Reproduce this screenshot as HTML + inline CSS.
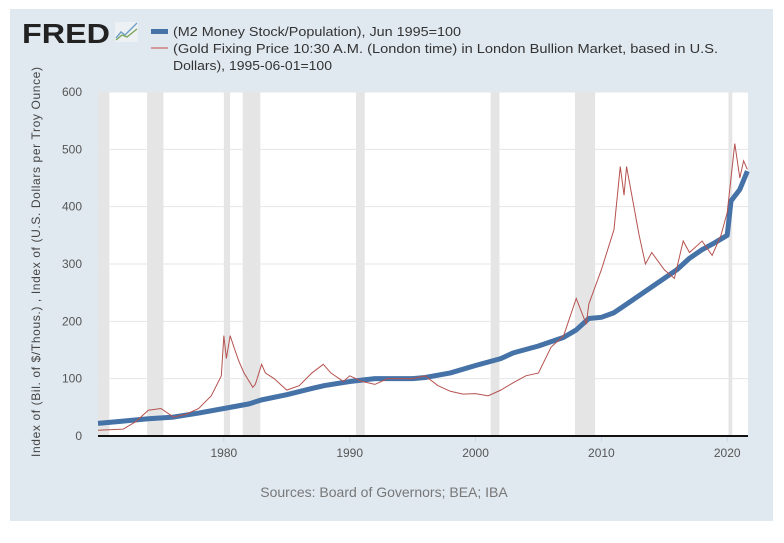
<!DOCTYPE html>
<html><head><meta charset="utf-8"><style>
body{margin:0;background:#fff;font-family:"Liberation Sans",Arial,sans-serif;}
svg text{font-family:"Liberation Sans",Arial,sans-serif;}
</style></head><body>
<svg width="784" height="538" viewBox="0 0 784 538">
<rect x="10" y="9" width="763" height="512" fill="#e1e9f0"/>
<g>
<text x="22" y="43" font-size="28" font-weight="bold" fill="#222" textLength="88" lengthAdjust="spacingAndGlyphs">FRED</text>
<rect x="115" y="22" width="23" height="20" fill="#eef1f3"/>
<polyline points="116,38 121,32 125,35 137,23" fill="none" stroke="#6fa0c8" stroke-width="1.4"/>
<polyline points="116,40 122,35 127,37 137,29" fill="none" stroke="#7aa55a" stroke-width="1.4"/>
</g>
<g>
<rect x="151" y="29" width="17" height="5" fill="#4572a7"/>
<text x="173" y="36" font-size="13" fill="#333" textLength="288" lengthAdjust="spacingAndGlyphs">(M2 Money Stock/Population), Jun 1995=100</text>
<rect x="151" y="47" width="17" height="2" fill="#d49a9a"/>
<text x="173" y="53" font-size="13" fill="#333" textLength="545" lengthAdjust="spacingAndGlyphs">(Gold Fixing Price 10:30 A.M. (London time) in London Bullion Market, based in U.S.</text>
<text x="173" y="70" font-size="13" fill="#333" textLength="159" lengthAdjust="spacingAndGlyphs">Dollars), 1995-06-01=100</text>
</g>
<rect x="98" y="92" width="650" height="344" fill="#fff"/>
<g id="rec"></g><g id="grid"></g><g id="series"></g><g id="axes"></g>
<text transform="translate(40,262) rotate(-90)" text-anchor="middle" font-size="12" fill="#444" textLength="390">Index of (Bil. of $/Thous.) , Index of (U.S. Dollars per Troy Ounce)</text>
<text x="384" y="497" text-anchor="middle" font-size="14" fill="#777">Sources: Board of Governors; BEA; IBA</text>
</svg>
<script>
const recessionStarts=[1969.9,1973.9,1980.0,1981.5,1990.5,2001.2,2007.9,2020.1];
const recessionEnds=[1970.9,1975.2,1980.5,1982.9,1991.2,2001.9,2009.5,2020.4];
const yTicks=[0,100,200,300,400,500,600];
const xTicks=[1980,1990,2000,2010,2020];
const m2Years=[1970,1972,1974,1976,1978,1980,1982,1983,1985,1987,1988,1990,1992,1994,1995,1996,1998,2000,2002,2003,2005,2007,2008,2009,2010,2011,2012,2013,2014,2015,2016,2017,2018,2019,2020.0,2020.3,2021,2021.6];
const m2Values=[22,26,30,33,40,48,56,63,72,83,88,95,100,100,100,102,110,123,135,145,157,172,185,205,207,215,230,245,260,275,290,310,325,337,350,410,430,462];
const goldYears=[1970,1972,1973,1974,1975,1976,1977,1978,1979,1979.8,1980.0,1980.2,1980.5,1980.8,1981.2,1981.6,1982.3,1982.5,1983.0,1983.3,1984,1985,1986,1987,1987.9,1988.5,1989.5,1990,1991,1992,1993,1994,1995,1996,1997,1998,1999,2000,2001,2002,2003,2004,2005,2006,2007,2008,2008.8,2009,2010,2011,2011.5,2011.8,2012,2012.5,2013,2013.5,2014,2015,2015.8,2016.5,2017,2018,2018.8,2019.5,2020,2020.6,2021,2021.3,2021.6];
const goldValues=[10,12,25,45,48,33,38,48,70,105,175,135,175,155,130,110,85,90,125,110,100,80,88,110,125,110,95,105,95,90,100,100,100,105,88,78,73,74,70,80,93,105,110,155,175,240,195,230,290,360,470,420,470,410,350,300,320,290,275,340,320,340,315,350,390,510,450,480,465];
const x0=98,x1=748,y0=436,y1=92;
const xs=t=>x0+(t-1970)*(x1-x0)/(2021.65-1970);
const ys=v=>y0-(v/600)*(y0-y1);
const NS='http://www.w3.org/2000/svg';
function mk(tag,attrs,parent){const e=document.createElementNS(NS,tag);for(const k in attrs)e.setAttribute(k,attrs[k]);document.getElementById(parent).appendChild(e);return e;}
recessionStarts.forEach((s,i)=>{const a=Math.max(xs(s),x0);
const r=mk('rect',{x:a,y:y1,width:xs(recessionEnds[i])-a,height:y0-y1,fill:'#e5e5e5'},'rec');

});
yTicks.forEach(v=>{
const l=mk('line',{x1:x0,x2:x1,y1:ys(v),y2:ys(v),stroke:'#e6e6e6','stroke-width':1},'grid');


const t=mk('text',{x:82,y:ys(v)+4,'text-anchor':'end','font-size':12,fill:'#555'},'axes');t.textContent=v;

});
xTicks.forEach(y=>{
const l=mk('line',{x1:xs(y),x2:xs(y),y1:y0,y2:y0+6,stroke:'#ccd6eb'},'axes');


const t=mk('text',{x:xs(y),y:457,'text-anchor':'middle','font-size':12,fill:'#555'},'axes');t.textContent=y;

});
const ax=mk('line',{x1:x0,x2:x1,y1:y0,y2:y0,stroke:'#111','stroke-width':2},'axes');


const m2=mk('polyline',{points:m2Years.map((t,i)=>xs(t)+','+ys(m2Values[i])).join(' '),fill:'none',stroke:'#4572a7','stroke-width':5,'stroke-linejoin':'round'},'series');


const g=mk('polyline',{points:goldYears.map((t,i)=>xs(t)+','+ys(goldValues[i])).join(' '),fill:'none',stroke:'#b5524f','stroke-width':1},'series');


</script>
</body></html>
